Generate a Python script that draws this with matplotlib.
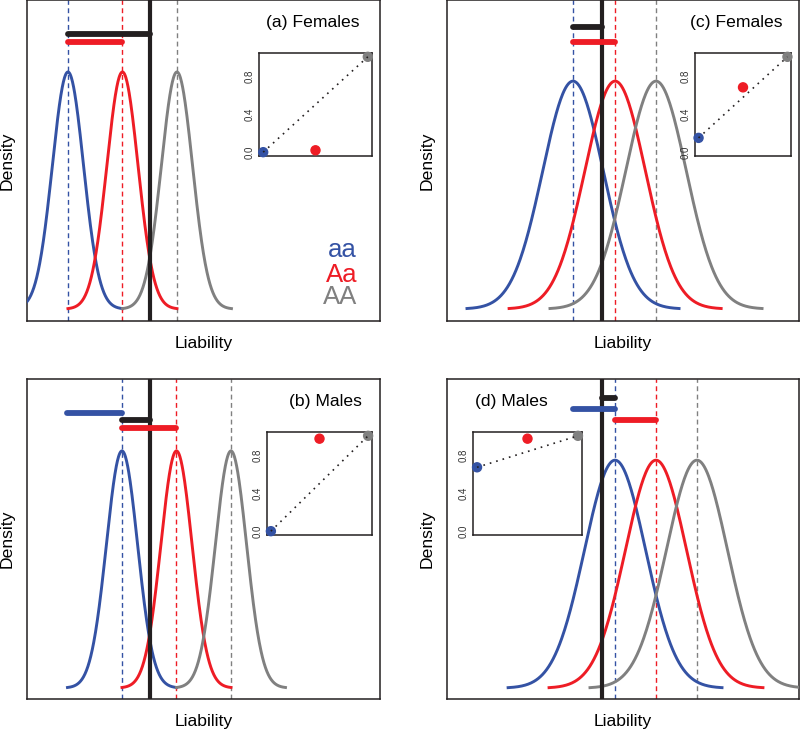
import numpy as np
import matplotlib
matplotlib.use('Agg')
from matplotlib import pyplot as plt

plt.rcParams['font.family'] = ['Liberation Sans', 'DejaVu Sans']

# genotype colours: aa, Aa, AA
BLUE = '#3452a4'
RED = '#ee1c25'
GRAY = '#808080'
BLACK = '#231f20'
cols = [BLUE, RED, GRAY]

labels = ['(a) Females', '(b) Males', '(c) Females', '(d) Males']

# genotype means on the liability scale (sd units) and threshold
means_a = [0.0, 3.5, 7.0]
means_b = [0.0, 3.5, 7.0]
means_c = [0.0, 1.39, 2.74]
means_d = [0.0, 1.34, 2.68]
thresh = [5.27, 1.80, 0.96, -0.43]

# horizontal bars: (colour, start, end, height)
bars_a = [(BLACK, 0.0, 5.27, 0.463), (RED, 0.0, 3.5, 0.449)]
bars_b = [(BLUE, -3.5, 0.0, 0.463), (BLACK, 0.0, 1.80, 0.451), (RED, 0.0, 3.5, 0.438)]
bars_c = [(BLACK, 0.0, 0.96, 0.493), (RED, 0.0, 1.39, 0.467)]
bars_d = [(BLACK, -0.43, 0.0, 0.507), (BLUE, -1.37, 0.0, 0.488), (RED, 0.0, 1.34, 0.469)]

# inset values (aa, Aa, AA)
inset_x = [0.0, 0.5, 1.0]
inset_a = [0.0, 0.02, 1.0]
inset_b = [0.0, 0.97, 1.0]
inset_c = [0.15, 0.68, 1.0]
inset_d = [0.67, 0.97, 1.0]

xlims = [(-2.63, 20.04), (-6.10, 16.57), (-4.16, 7.46), (-5.50, 6.02)]
ylims = [(-0.020, 0.520), (-0.0185, 0.520), (-0.021, 0.541), (-0.019, 0.541)]

W, H = 800, 732
fig = plt.figure(figsize=(W / 100, H / 100), dpi=100)

def px_axes(x0, y0, x1, y1):
    # pixel box (top-left origin) -> figure axes
    return fig.add_axes([x0 / W, 1 - y1 / H, (x1 - x0) / W, (y1 - y0) / H])

main_boxes = [(27, 0, 380, 321), (27, 379, 380, 699), (447, 0, 799, 321), (447, 379, 799, 699)]
inset_boxes = [(259, 53, 372, 156), (267, 432, 372, 535), (695, 53, 791, 156), (473, 432, 582, 535)]

all_means = [means_a, means_b, means_c, means_d]
all_bars = [bars_a, bars_b, bars_c, bars_d]
all_inset = [inset_a, inset_b, inset_c, inset_d]

for i in range(4):
    ax = px_axes(*main_boxes[i])
    m = all_means[i]
    for mu, c in zip(m, cols):
        x = np.linspace(mu - 3.5, mu + 3.5, 300)
        y = np.exp(-0.5 * (x - mu) ** 2) / np.sqrt(2 * np.pi)
        ax.plot(x, y, color=c, lw=2.1, zorder=3)
        ax.axvline(mu, color=c, lw=1.0, ls=(0, (3.5, 2.5)), zorder=2)
    ax.axvline(thresh[i], color=BLACK, lw=3.0, zorder=4)
    for c, a, b, h in all_bars[i]:
        ax.plot([a, b], [h, h], color=c, lw=4.2, solid_capstyle='round', zorder=5)
    ax.set_xlim(*xlims[i])
    ax.set_ylim(*ylims[i])
    ax.set_xticks([])
    ax.set_yticks([])
    for s in ax.spines.values():
        s.set_linewidth(1.1)
        s.set_color(BLACK)
    h_ax = main_boxes[i][3] - main_boxes[i][1]
    w_ax = main_boxes[i][2] - main_boxes[i][0]
    ax.text(0.5, -22.5 / h_ax, 'Liability', transform=ax.transAxes,
            ha='center', va='center', fontsize=12.6)
    ax.text(-20.0 / w_ax, 0.5, 'Density', transform=ax.transAxes, rotation=90,
            ha='center', va='center', fontsize=12.6)
    if i == 3:
        ax.text(0.08, 1 - 27 / h_ax, labels[i], transform=ax.transAxes,
                ha='left', va='baseline', fontsize=12.6)
    else:
        rx = [0.943, 0.949, 0.952][i]
        ax.text(rx, 1 - 27 / h_ax, labels[i], transform=ax.transAxes,
                ha='right', va='baseline', fontsize=12.6)
    if i == 0:
        for txt, c, yb in zip(['aa', 'Aa', 'AA'], cols, [0.199, 0.121, 0.053]):
            ax.text(0.935, yb, txt, color=c, transform=ax.transAxes,
                    ha='right', va='baseline', fontsize=18.5)

    # inset
    ins = px_axes(*inset_boxes[i])
    vals = all_inset[i]
    ins.scatter(inset_x, vals, c=cols, s=42, zorder=3, clip_on=False)
    ins.plot([inset_x[0], inset_x[2]], [vals[0], vals[2]], color=BLACK,
             ls=(0, (1, 3)), lw=1.2, zorder=4)
    ins.set_xlim(-0.04, 1.04)
    ins.set_ylim(-0.04, 1.04)
    ins.set_xticks([])
    ins.set_yticks([0.0, 0.4, 0.8])
    ins.set_yticklabels(['0.0', '0.4', '0.8'], rotation=90, va='center',
                        fontsize=7, color='#333333')
    ins.tick_params(axis='y', length=0, pad=3)
    for s in ins.spines.values():
        s.set_linewidth(1.1)
        s.set_color(BLACK)

fig.savefig('out.png', dpi=100)
